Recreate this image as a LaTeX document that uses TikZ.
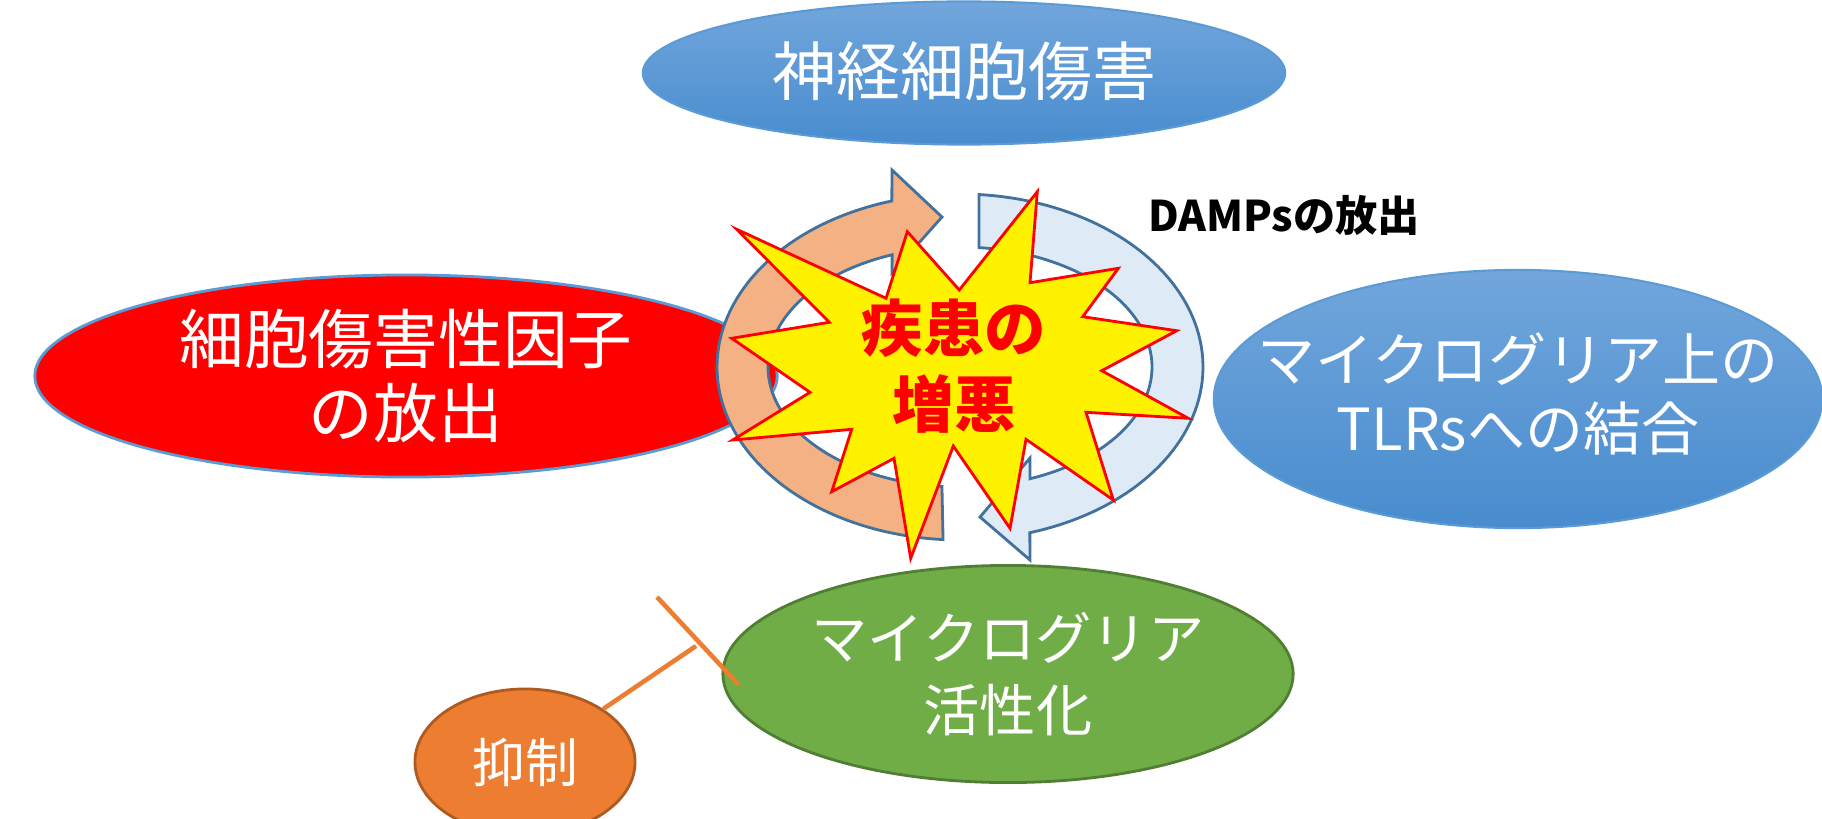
\documentclass[tikz,border=0pt]{standalone}
\usepackage{fontspec}
\newfontfamily\jp{Noto Sans CJK JP}
\usetikzlibrary{shapes.geometric}
\definecolor{blueTop}{RGB}{114,166,220}
\definecolor{blueBot}{RGB}{72,140,206}
\definecolor{blueEdge}{RGB}{91,155,213}
\definecolor{ringEdge}{RGB}{65,113,156}
\definecolor{orangeBand}{RGB}{244,177,131}
\definecolor{blueBand}{RGB}{222,235,247}
\definecolor{greenFill}{RGB}{112,173,71}
\definecolor{greenEdge}{RGB}{80,126,50}
\definecolor{orangeFill}{RGB}{237,125,49}
\definecolor{orangeEdge}{RGB}{174,90,33}
\begin{document}
\begin{tikzpicture}[x=0.01cm,y=-0.01cm,
  oval/.style={ellipse, inner sep=0pt},
  ovaltext/.style={inner sep=0pt, align=center, text=white},
  blueoval/.style={oval, draw=blueEdge, line width=0.6pt, top color=blueTop, bottom color=blueBot},
  redoval/.style={oval, draw=blueEdge, line width=0.8pt, fill=red},
  greenoval/.style={oval, draw=greenEdge, line width=0.8pt, fill=greenFill},
  suppoval/.style={oval, draw=orangeEdge, line width=0.8pt, fill=orangeFill},
  inhline/.style={draw=orangeFill, line width=1.3pt},
  band/.style={draw=ringEdge, line width=0.8pt, line join=miter},
  burst/.style={draw=red, fill=yellow, line width=0.8pt, line join=miter},
]
\useasboundingbox (0,0) rectangle (1822,818);
\clip (0,0) rectangle (1822,818);

% ellipses
\node[blueoval, minimum width=6.42cm, minimum height=1.43cm] (top) at (964,73) {};
\node[ovaltext, font=\jp\fontsize{18.2}{21}\selectfont] (topT) at (964,71) {神経細胞傷害};
\node[redoval, minimum width=7.42cm, minimum height=2.02cm] (left) at (406,376) {};
\node[ovaltext, font=\jp\fontsize{18.4}{20.8}\selectfont] (leftT) at (left) {細胞傷害性因子\\の放出};
\node[blueoval, minimum width=6.08cm, minimum height=2.58cm] (right) at (1518,399) {};
\node[ovaltext, font=\jp\fontsize{16.5}{19.5}\selectfont] (rightT) at (1518,394) {マイクログリア上の\\TLRsへの結合};
\node[greenoval, minimum width=5.70cm, minimum height=2.17cm] (green) at (1008,674) {};
\node[ovaltext, font=\jp\fontsize{16}{20.5}\selectfont] (greenT) at (green) {マイクログリア\\活性化};
\node[suppoval, minimum width=2.20cm, minimum height=1.46cm] (supp) at (525,762) {};
\node[ovaltext, font=\jp\fontsize{15}{18}\selectfont] (suppT) at (supp) {抑制};

% inhibition connector
\coordinate (inh) at (696,646);
\coordinate (barA) at (657,597);
\coordinate (barB) at (739,685);
\draw[inhline] (supp) -- (inh);
\draw[inhline] (barA) -- (barB);

% circular arrows
\draw[band, fill=orangeBand]
  plot[domain=94:253.7, samples=80] ({960+243*cos(\x)},{367+173*sin(\x)})
  -- (892,170) -- (942,217) -- (892,273)
  -- plot[domain=249.3:95.4, samples=80] ({960+192*cos(\x)},{367+120*sin(\x)})
  -- cycle;
\draw[band, fill=blueBand]
  plot[domain=-85.5:73.3, samples=80] ({960+243*cos(\x)},{367+173*sin(\x)})
  -- (1030,560) -- (980,517) -- (1030,458)
  -- plot[domain=68.6:-84.3, samples=80] ({960+192*cos(\x)},{367+120*sin(\x)})
  -- cycle;

% burst
\draw[burst] (736.7,229.3) -- (886,298.3) -- (907.3,231.7) -- (959.3,290)
  -- (1037.3,191.7) -- (1030,282.7) -- (1118.3,268.3) -- (1082.7,316.7)
  -- (1176.7,330.7) -- (1101.7,370.7) -- (1188.3,418.3) -- (1086,412.3)
  -- (1113.3,500) -- (1026,439.3) -- (1010,528.3) -- (953.3,446)
  -- (910.7,558.3) -- (894,458.3) -- (831.7,491.7) -- (851.7,429.3)
  -- (732.7,440) -- (810,392.3) -- (731.7,338.3) -- (829.3,322.3) -- cycle;
\node[align=center, text=red, inner sep=0pt,
  font=\jp\bfseries\fontsize{17.5}{21.5}\selectfont] (worse) at (954,366) {疾患の\\増悪};

% label
\node[inner sep=0pt, font=\jp\bfseries\fontsize{12}{14}\selectfont] (damps) at (1284,216) {DAMPsの放出};
\end{tikzpicture}
\end{document}
